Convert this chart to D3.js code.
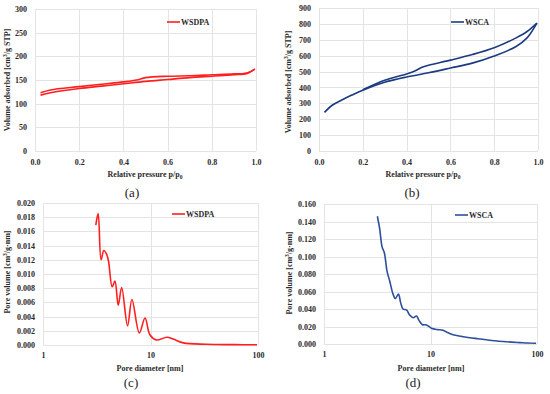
<!DOCTYPE html>
<html>
<head>
<meta charset="utf-8">
<script src="https://cdnjs.cloudflare.com/ajax/libs/d3/7.8.5/d3.min.js"></script>
<style>
body { margin: 0; background: #fff; }
svg { display: block; }
text { font-family: "Liberation Serif", "Times New Roman", serif; }
.tick text { font-weight: bold; font-size: 8px; fill: #2a2a2a; }
.title { font-weight: bold; font-size: 8px; fill: #2a2a2a; }
.legend { font-weight: bold; font-size: 8px; fill: #2a2a2a; }
.caption { font-size: 13px; fill: #222; }
.grid line { stroke: #e4e4e4; stroke-width: 1; }
</style>
</head>
<body>
<svg id="chart" width="550" height="394"></svg>
<script>
// (a) WSDPA isotherm
var wsdpaAdsP = [0.025, 0.07, 0.2, 0.3, 0.4, 0.5, 0.6, 0.7, 0.8, 0.9, 0.96, 0.995];
var wsdpaAdsV = [118, 123, 132, 137, 142, 147, 151, 155, 158, 161, 164, 173];
var wsdpaDesP = [0.995, 0.96, 0.9, 0.8, 0.7, 0.6, 0.5, 0.46, 0.4, 0.3, 0.2, 0.07, 0.025];
var wsdpaDesV = [173, 165, 163, 161, 159, 158, 155, 150, 146, 141, 136, 129, 123];

// (b) WSCA isotherm
var wscaAdsP = [0.025, 0.06, 0.1, 0.15, 0.2, 0.3, 0.4, 0.5, 0.6, 0.7, 0.8, 0.9, 0.95, 0.995];
var wscaAdsV = [243, 288, 318, 352, 383, 433, 466, 492, 522, 553, 598, 658, 712, 805];
var wscaDesP = [0.995, 0.95, 0.9, 0.8, 0.7, 0.6, 0.5, 0.47, 0.44, 0.4, 0.3, 0.2];
var wscaDesV = [805, 752, 712, 650, 607, 572, 540, 527, 505, 485, 445, 385];

// (c) WSDPA pore size distribution
var wsdpaDiam = [3.10, 3.26, 3.47, 3.68, 3.9, 4.07, 4.40, 4.67, 5.01, 5.39, 6.12, 6.72, 7.87, 8.89, 9.9, 11.4, 14.2, 16.5, 20.2, 33, 60, 98];
var wsdpaPore = [0.0169, 0.0185, 0.0120, 0.0133, 0.0128, 0.0118, 0.0082, 0.0090, 0.0056, 0.0081, 0.0027, 0.0064, 0.0017, 0.0038, 0.0014, 0.0007, 0.0011, 0.0008, 0.0003, 0.0001, 0.00005, 0.00004];

// (d) WSCA pore size distribution
var wscaDiam = [3.17, 3.33, 3.51, 3.69, 3.91, 4.14, 4.45, 4.68, 5.0, 5.25, 5.52, 5.94, 6.38, 6.86, 7.38, 7.8, 8.4, 9.0, 9.7, 10.2, 11.5, 13.1, 14.5, 16.3, 19.6, 23.3, 28, 33.5, 40, 48, 58, 69, 82, 98];
var wscaPore = [0.146, 0.132, 0.111, 0.104, 0.083, 0.072, 0.057, 0.052, 0.057, 0.047, 0.040, 0.039, 0.033, 0.030, 0.032, 0.027, 0.022, 0.022, 0.020, 0.018, 0.0165, 0.0158, 0.013, 0.0105, 0.0087, 0.0072, 0.006, 0.0048, 0.0037, 0.0028, 0.0021, 0.0016, 0.0011, 0.0008];

// tick labels
var isoXTicks = [0, 0.2, 0.4, 0.6, 0.8, 1.0];
var wsdpaYTicks = [0, 50, 100, 150, 200, 250, 300];
var wscaYTicks = [0, 100, 200, 300, 400, 500, 600, 700, 800, 900];
var psdXTicks = [1, 10, 100];
var wsdpaPsdYTicks = [0, 0.002, 0.004, 0.006, 0.008, 0.010, 0.012, 0.014, 0.016, 0.018, 0.020];
var wscaPsdYTicks = [0, 0.020, 0.040, 0.060, 0.080, 0.100, 0.120, 0.140, 0.160];

var RED = "#ff1f1f";
var svg = d3.select("#chart");

function richText(sel, parts, small) {
	var shift = 0;
	parts.forEach(function(p) {
		var target = p[1] == "sup" ? -3 : (p[1] == "sub" ? 2 : 0);
		var t = sel.append("tspan").text(p[0]).attr("dy", target - shift);
		if (p[1]) t.style("font-size", small + "px");
		shift = target;
	});
}

function drawPanel(o) {
	var g = svg.append("g");
	var x = (o.log ? d3.scaleLog() : d3.scaleLinear())
		.domain(o.xDomain)
		.range([o.left, o.right]);
	var y = d3.scaleLinear()
		.domain([0, o.yTicks[o.yTicks.length - 1]])
		.range([o.bottom, o.top]);

	var grid = g.append("g").attr("class", "grid");
	grid.selectAll(".h").data(o.yTicks).enter().append("line")
		.attr("x1", o.left).attr("x2", o.right)
		.attr("y1", function(d) { return Math.round(y(d)) + 0.5; })
		.attr("y2", function(d) { return Math.round(y(d)) + 0.5; });
	grid.selectAll(".v").data(o.xTicks).enter().append("line")
		.attr("y1", o.top).attr("y2", o.bottom)
		.attr("x1", function(d) { return Math.round(x(d)) + 0.5; })
		.attr("x2", function(d) { return Math.round(x(d)) + 0.5; });

	g.append("g")
		.attr("transform", "translate(" + o.left + ",0)")
		.call(d3.axisLeft(y).tickValues(o.yTicks).tickFormat(d3.format(o.yFormat)).tickSize(0).tickPadding(8))
		.call(function(a) { a.select(".domain").remove(); });
	g.append("g")
		.attr("transform", "translate(0," + o.bottom + ")")
		.call(d3.axisBottom(x).tickValues(o.xTicks).tickFormat(d3.format(o.xFormat)).tickSize(0).tickPadding(o.xPad))
		.call(function(a) { a.select(".domain").remove(); });
	g.selectAll("g").attr("font-family", null).attr("font-size", null);

	var line = d3.line()
		.x(function(d) { return x(d[0]); })
		.y(function(d) { return y(d[1]); })
		.curve(d3.curveCatmullRom.alpha(0.5));
	o.series.forEach(function(s) {
		g.append("path")
			.attr("d", line(d3.zip(s[0], s[1])))
			.attr("fill", "none")
			.attr("stroke", o.color)
			.attr("stroke-width", 1.6);
	});

	// legend
	g.append("line")
		.attr("x1", o.legend[0]).attr("x2", o.legend[0] + 13)
		.attr("y1", o.legend[1]).attr("y2", o.legend[1])
		.attr("stroke", o.color).attr("stroke-width", 1.6);
	g.append("text").attr("class", "legend")
		.attr("x", o.legend[0] + 14).attr("y", o.legend[1] + 3)
		.text(o.name);

	// titles
	var xt = g.append("text").attr("class", "title")
		.attr("text-anchor", "middle")
		.attr("x", o.xTitlePos[0]).attr("y", o.xTitlePos[1]);
	richText(xt, o.xTitle, 5.5);
	var yt = g.append("text").attr("class", "title")
		.attr("text-anchor", "middle")
		.attr("transform", "translate(" + o.yTitlePos[0] + "," + o.yTitlePos[1] + ") rotate(-90)");
	richText(yt, o.yTitle, 5.5);

	g.append("text").attr("class", "caption")
		.attr("text-anchor", "middle")
		.attr("x", o.caption[0]).attr("y", o.caption[1])
		.text(o.caption[2]);
}

var isoXTitle = [["Relative pressure p/p"], ["0", "sub"]];
var isoYTitle = [["Volume adsorbed [cm"], ["3", "sup"], ["/g STP]"]];
var psdXTitle = [["Pore diameter [nm]"]];
var psdYTitle = [["Pore volume [cm"], ["3", "sup"], ["/g·nm]"]];

drawPanel({
	left: 35, right: 256, top: 9, bottom: 151,
	xDomain: [0, 1], xTicks: isoXTicks, xFormat: ".1f", xPad: 8,
	yTicks: wsdpaYTicks, yFormat: "d",
	series: [[wsdpaAdsP, wsdpaAdsV], [wsdpaDesP, wsdpaDesV]],
	color: RED, name: "WSDPA", legend: [167, 22],
	xTitle: isoXTitle, xTitlePos: [145, 177],
	yTitle: isoYTitle, yTitlePos: [10, 80],
	caption: [132, 197, "(a)"]
});

drawPanel({
	left: 319, right: 538, top: 8, bottom: 151,
	xDomain: [0, 1], xTicks: isoXTicks, xFormat: ".1f", xPad: 8,
	yTicks: wscaYTicks, yFormat: "d",
	series: [[wscaAdsP, wscaAdsV], [wscaDesP, wscaDesV]],
	color: "#1c3a80", name: "WSCA", legend: [451, 22],
	xTitle: isoXTitle, xTitlePos: [423, 177],
	yTitle: isoYTitle, yTitlePos: [291, 82],
	caption: [412, 197, "(b)"]
});

drawPanel({
	left: 43, right: 258, top: 203, bottom: 345, log: true,
	xDomain: [1, 100], xTicks: psdXTicks, xFormat: "d", xPad: 7,
	yTicks: wsdpaPsdYTicks, yFormat: ".3f",
	series: [[wsdpaDiam, wsdpaPore]],
	color: RED, name: "WSDPA", legend: [172, 214],
	xTitle: psdXTitle, xTitlePos: [150, 371],
	yTitle: psdYTitle, yTitlePos: [10, 272],
	caption: [131, 387, "(c)"]
});

drawPanel({
	left: 324, right: 537, top: 204, bottom: 344, log: true,
	xDomain: [1, 100], xTicks: psdXTicks, xFormat: "d", xPad: 7,
	yTicks: wscaPsdYTicks, yFormat: ".3f",
	series: [[wscaDiam, wscaPore]],
	color: "#2d509a", name: "WSCA", legend: [455, 215],
	xTitle: psdXTitle, xTitlePos: [431, 371],
	yTitle: psdYTitle, yTitlePos: [292, 273],
	caption: [413, 387, "(d)"]
});
</script>
</body>
</html>
